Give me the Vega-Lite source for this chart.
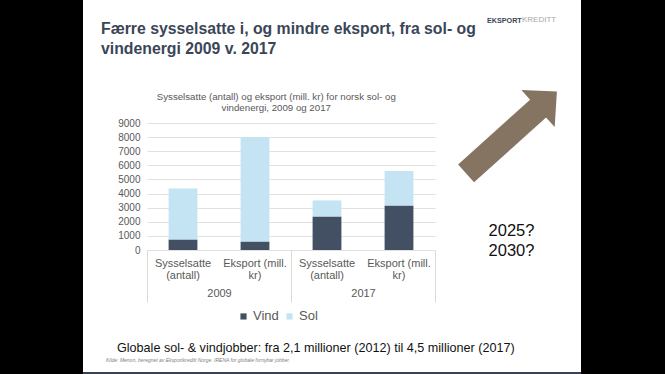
{
  "$schema": "https://vega.github.io/schema/vega-lite/v6.json",
  "background": "#ffffff",
  "padding": 0,
  "spacing": 0,
  "config": {
    "font": "Liberation Sans",
    "view": {"stroke": null},
    "concat": {"spacing": 0}
  },
  "resolve": {"scale": {"color": "independent"}, "legend": {"color": "independent"}},
  "hconcat": [
    {
      "width": 83,
      "height": 374,
      "view": {"fill": "#000000", "stroke": null},
      "data": {"values": [{"panel": "left"}]},
      "mark": {"type": "rect", "color": "#000000"},
      "encoding": {}
    },
    {
      "spacing": 33,
      "resolve": {"scale": {"color": "independent"}, "legend": {"color": "independent"}},
      "vconcat": [
        {
          "spacing": 0,
          "hconcat": [
            {
              "width": 404,
              "height": 1,
              "data": {"values": []},
              "mark": "point",
              "encoding": {},
              "title": {
                "text": ["Færre sysselsatte i, og mindre eksport, fra sol- og", "vindenergi 2009 v. 2017"],
                "orient": "bottom",
                "anchor": "start",
                "frame": "group",
                "baseline": "top",
                "offset": 20.7,
                "dx": 18,
                "fontSize": 15.8,
                "fontWeight": "bold",
                "lineHeight": 20,
                "color": "#3a4658"
              }
            },
            {
              "width": 1,
              "height": 1,
              "data": {"values": []},
              "mark": "point",
              "encoding": {},
              "title": {
                "text": "EKSPORT",
                "orient": "bottom",
                "anchor": "start",
                "frame": "group",
                "baseline": "top",
                "offset": 16,
                "fontSize": 7.2,
                "fontWeight": "bold",
                "color": "#3a4658"
              }
            },
            {
              "width": 1,
              "height": 1,
              "data": {"values": []},
              "mark": "point",
              "encoding": {},
              "title": {
                "text": "KREDITT",
                "orient": "bottom",
                "anchor": "start",
                "frame": "group",
                "baseline": "top",
                "offset": 15.4,
                "fontSize": 8,
                "fontWeight": "normal",
                "color": "#a6a6a6"
              }
            }
          ]
        },
        {
          "spacing": 0,
          "resolve": {"scale": {"color": "independent"}, "legend": {"color": "independent"}},
          "vconcat": [
            {
              "spacing": 10,
              "resolve": {"scale": {"color": "independent"}, "legend": {"color": "independent"}},
              "hconcat": [
                {
                  "width": 24,
                  "height": 1,
                  "data": {"values": []},
                  "mark": "point",
                  "encoding": {}
                },
                {
                  "width": 288,
                  "height": 127,
                  "title": {
                    "text": ["Sysselsatte (antall) og eksport (mill. kr) for norsk sol- og", "vindenergi, 2009 og 2017"],
                    "fontSize": 9.7,
                    "fontWeight": "normal",
                    "color": "#595959",
                    "anchor": "middle",
                    "frame": "bounds",
                    "lineHeight": 11,
                    "offset": 5
                  },
                  "data": {
                    "values": [
                      {"bar": "2009 Sysselsatte (antall)", "year": "2009", "measure": "Sysselsatte (antall)", "source": "Vind", "value": 750},
                      {"bar": "2009 Sysselsatte (antall)", "year": "2009", "measure": "Sysselsatte (antall)", "source": "Sol", "value": 3610},
                      {"bar": "2009 Eksport (mill. kr)", "year": "2009", "measure": "Eksport (mill. kr)", "source": "Vind", "value": 600},
                      {"bar": "2009 Eksport (mill. kr)", "year": "2009", "measure": "Eksport (mill. kr)", "source": "Sol", "value": 7400},
                      {"bar": "2017 Sysselsatte (antall)", "year": "2017", "measure": "Sysselsatte (antall)", "source": "Vind", "value": 2380},
                      {"bar": "2017 Sysselsatte (antall)", "year": "2017", "measure": "Sysselsatte (antall)", "source": "Sol", "value": 1130},
                      {"bar": "2017 Eksport (mill. kr)", "year": "2017", "measure": "Eksport (mill. kr)", "source": "Vind", "value": 3160},
                      {"bar": "2017 Eksport (mill. kr)", "year": "2017", "measure": "Eksport (mill. kr)", "source": "Sol", "value": 2430}
                    ]
                  },
                  "layer": [
                    {
                      "mark": {"type": "bar"},
                      "encoding": {
                        "x": {
                          "field": "bar",
                          "type": "nominal",
                          "sort": ["2009 Sysselsatte (antall)", "2009 Eksport (mill. kr)", "2017 Sysselsatte (antall)", "2017 Eksport (mill. kr)"],
                          "scale": {"type": "band", "paddingInner": 0.6, "paddingOuter": 0.3},
                          "axis": {
                            "orient": "bottom",
                            "title": null,
                            "domain": false,
                            "ticks": false,
                            "tickSize": 0,
                            "labelPadding": 7.5,
                            "labelAngle": 0,
                            "labelFontSize": 11,
                            "labelColor": "#595959",
                            "labelLineHeight": 12,
                            "labelExpr": "indexof(datum.value, 'Sysselsatte') >= 0 ? ['Sysselsatte', '(antall)'] : ['Eksport (mill.', 'kr)']"
                          }
                        },
                        "y": {
                          "field": "value",
                          "type": "quantitative",
                          "stack": "zero",
                          "scale": {"domain": [0, 9000]},
                          "axis": {
                            "values": [0, 1000, 2000, 3000, 4000, 5000, 6000, 7000, 8000, 9000],
                            "format": "d",
                            "title": null,
                            "grid": true,
                            "gridColor": "#d9d9d9",
                            "gridWidth": 0.8,
                            "domain": false,
                            "ticks": false,
                            "labelPadding": 7,
                            "labelFontSize": 10,
                            "labelColor": "#595959",
                            "minExtent": 30
                          }
                        },
                        "color": {
                          "field": "source",
                          "type": "nominal",
                          "scale": {"domain": ["Vind", "Sol"], "range": ["#435064", "#c4e3f3"]},
                          "legend": {
                            "orient": "none",
                            "legendX": 90,
                            "legendY": 186.7,
                            "direction": "horizontal",
                            "title": null,
                            "symbolType": "square",
                            "symbolSize": 38,
                            "symbolStrokeWidth": 0,
                            "labelFontSize": 13,
                            "labelColor": "#595959",
                            "labelOffset": 3,
                            "columnPadding": 4
                          }
                        },
                        "order": {"field": "source", "sort": "descending"}
                      }
                    },
                    {
                      "mark": {"type": "bar", "opacity": 0},
                      "encoding": {
                        "x": {
                          "field": "year",
                          "type": "ordinal",
                          "scale": {"type": "band", "paddingInner": 0, "paddingOuter": 0},
                          "axis": {
                            "orient": "bottom",
                            "title": null,
                            "domain": false,
                            "ticks": true,
                            "tickBand": "extent",
                            "tickSize": 52,
                            "tickColor": "#d9d9d9",
                            "tickWidth": 1,
                            "labelPadding": -15,
                            "labelAngle": 0,
                            "labelFontSize": 11,
                            "labelColor": "#595959",
                            "grid": false
                          }
                        },
                        "y": {
                          "field": "value",
                          "type": "quantitative",
                          "stack": null,
                          "scale": {"domain": [0, 9000]},
                          "axis": {
                            "values": [0, 1000, 2000, 3000, 4000, 5000, 6000, 7000, 8000, 9000],
                            "format": "d",
                            "title": null,
                            "grid": true,
                            "gridColor": "#d9d9d9",
                            "gridWidth": 0.8,
                            "domain": false,
                            "ticks": false,
                            "labelPadding": 7,
                            "labelFontSize": 10,
                            "labelColor": "#595959",
                            "minExtent": 30
                          }
                        }
                      }
                    }
                  ],
                  "resolve": {"scale": {"x": "independent"}, "axis": {"x": "independent"}}
                },
                {
                  "width": 131,
                  "height": 118,
                  "layer": [
                    {
                      "data": {"values": [{"slot": "arrow"}]},
                      "mark": {
                        "type": "point",
                        "shape": "M -0.195 1 L 0.195 1 L 0.195 -0.585 L 0.4065 -0.585 L 0 -1 L -0.4065 -0.585 L -0.195 -0.585 Z",
                        "filled": true,
                        "size": 14940,
                        "angle": 48,
                        "color": "#857461",
                        "opacity": 1
                      },
                      "encoding": {
                        "y": {"field": "slot", "type": "nominal", "scale": {"type": "point", "domain": ["arrow", "years"], "padding": 0.096}, "axis": null}
                      }
                    },
                    {
                      "data": {"values": [{"slot": "years", "label": "2025?\n2030?"}]},
                      "mark": {
                        "type": "text",
                        "lineBreak": "\n",
                        "fontSize": 16.5,
                        "lineHeight": 19.6,
                        "color": "#111111",
                        "baseline": "middle",
                        "align": "center"
                      },
                      "encoding": {
                        "y": {"field": "slot", "type": "nominal", "scale": {"type": "point", "domain": ["arrow", "years"], "padding": 0.096}, "axis": null},
                        "text": {"field": "label"}
                      }
                    }
                  ]
                }
              ]
            },
            {
              "width": 498,
              "height": 1,
              "data": {"values": []},
              "mark": "point",
              "encoding": {},
              "title": {
                "text": "Globale sol- & vindjobber: fra 2,1 millioner (2012) til 4,5 millioner (2017)",
                "orient": "bottom",
                "anchor": "start",
                "frame": "group",
                "baseline": "top",
                "offset": 17.2,
                "dx": 34,
                "fontSize": 12.6,
                "fontWeight": "normal",
                "color": "#111111"
              }
            },
            {
              "spacing": 9,
              "vconcat": [
                {
                  "width": 498,
                  "height": 1,
                  "data": {"values": []},
                  "mark": "point",
                  "encoding": {},
                  "title": {
                    "text": "Kilde: Menon, beregnet av Eksportkreditt Norge. IRENA for globale fornybar jobber.",
                    "orient": "bottom",
                    "anchor": "start",
                    "frame": "group",
                    "baseline": "top",
                    "offset": 1.5,
                    "dx": 23,
                    "fontSize": 5,
                    "fontStyle": "italic",
                    "fontWeight": "normal",
                    "color": "#808080"
                  }
                },
                {
                  "width": 498,
                  "height": 5,
                  "view": {"fill": "#3a4354", "stroke": null},
                  "data": {"values": [{"panel": "strip"}]},
                  "mark": {"type": "rect", "color": "#3a4354"},
                  "encoding": {}
                }
              ]
            }
          ]
        }
      ]
    },
    {
      "width": 84,
      "height": 374,
      "view": {"fill": "#000000", "stroke": null},
      "data": {"values": [{"panel": "right"}]},
      "mark": {"type": "rect", "color": "#000000"},
      "encoding": {}
    }
  ]
}
